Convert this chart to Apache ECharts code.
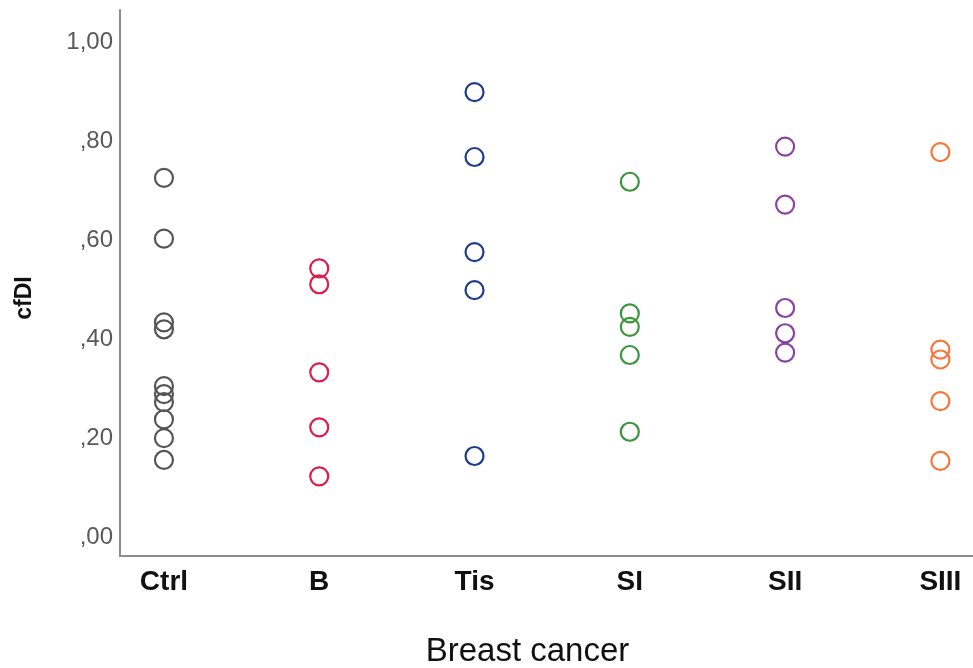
<!DOCTYPE html>
<html>
<head>
<meta charset="utf-8">
<script src="https://cdn.jsdelivr.net/npm/echarts@6/dist/echarts.min.js"></script>
<style>html,body{margin:0;padding:0;background:#fff}#c{width:973px;height:668px}</style>
</head>
<body>
<div id="c"></div>
<script>
var categories = ["Ctrl", "B", "Tis", "SI", "SII", "SIII"];
var ctrlValues = [0.726, 0.603, 0.434, 0.420, 0.305, 0.289, 0.273, 0.238, 0.200, 0.156];
var bValues = [0.543, 0.511, 0.333, 0.222, 0.123];
var tisValues = [0.899, 0.768, 0.576, 0.499, 0.164];
var siValues = [0.718, 0.452, 0.425, 0.368, 0.213];
var siiValues = [0.789, 0.672, 0.463, 0.412, 0.373];
var siiiValues = [0.778, 0.379, 0.359, 0.275, 0.154];
var yTicks = [0, 0.2, 0.4, 0.6, 0.8, 1.0];
var colors = ["#555555", "#dc1e4b", "#1f3c8c", "#3a963a", "#8443a6", "#f7763a"];

var groups = [ctrlValues, bValues, tisValues, siValues, siiValues, siiiValues];
var series = groups.map(function (vals, i) {
  return {
    type: 'scatter',
    name: categories[i],
    symbol: 'circle',
    symbolSize: 18,
    itemStyle: { color: 'rgba(0,0,0,0)', borderColor: colors[i], borderWidth: 2.2, opacity: 1 },
    data: vals.map(function (v) { return [i, v]; })
  };
});

function fmtY(v) {
  var s = v.toFixed(2).replace('.', ',');
  if (s.charAt(0) === '0') s = s.substring(1);
  return s;
}

var chart = echarts.init(document.getElementById('c'));
chart.setOption({
  animation: false,
  grid: { left: 120, top: 10, right: 0, bottom: 112, containLabel: false, outerBoundsMode: 'none' },
  xAxis: {
    type: 'value',
    min: -0.283,
    max: 5.21,
    splitLine: { show: false },
    axisTick: { show: false },
    axisLine: { show: true, onZero: false, lineStyle: { color: '#8c8c8c', width: 2 } },
    axisLabel: {
      customValues: [0, 1, 2, 3, 4, 5],
      formatter: function (v) { return categories[Math.round(v)]; },
      fontFamily: 'Liberation Sans, Arial, sans-serif',
      fontWeight: 'bold',
      fontSize: 28,
      color: '#111',
      margin: 12
    },
    name: 'Breast cancer',
    nameLocation: 'middle',
    nameGap: 79,
    nameTextStyle: { fontFamily: 'Liberation Sans, Arial, sans-serif', fontSize: 33, color: '#111', padding: [0, 38, 0, 0] }
  },
  yAxis: {
    type: 'value',
    min: -0.038,
    max: 1.065,
    splitLine: { show: false },
    axisTick: { show: false },
    axisLine: { show: true, onZero: false, lineStyle: { color: '#8c8c8c', width: 2 } },
    axisLabel: {
      customValues: yTicks,
      formatter: fmtY,
      fontFamily: 'Liberation Sans, Arial, sans-serif',
      fontSize: 24,
      color: '#595959',
      margin: 7
    },
    name: 'cfDI',
    nameLocation: 'middle',
    nameGap: 84,
    nameRotate: 90,
    nameTextStyle: { fontFamily: 'Liberation Sans, Arial, sans-serif', fontSize: 23, fontWeight: 'bold', color: '#111', padding: [0, 30, 0, 0] }
  },
  series: series
});
</script>
</body>
</html>
